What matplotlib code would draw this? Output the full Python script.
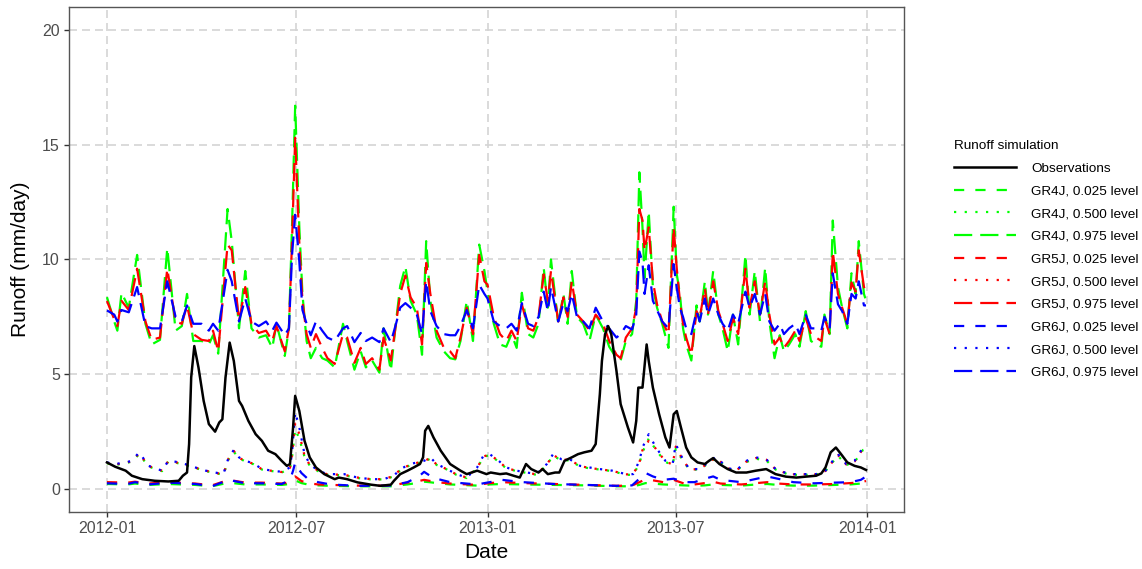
import matplotlib
matplotlib.use("Agg")
import matplotlib.pyplot as plt
import matplotlib.dates as mdates
import numpy as np

plt.rcParams["font.family"] = ["Liberation Sans", "DejaVu Sans"]

# ---- data (days since 2012-01-01, runoff in mm/day) ----
obs_day = [0, 8, 18, 24, 34, 46, 59, 69, 73, 77, 79, 81, 84, 88, 93, 98, 104, 108, 111, 114,
           118, 122, 127, 130, 136, 143, 149, 155, 162, 168, 173, 176, 179, 181, 185, 190, 195,
           201, 209, 219, 223, 231, 241, 254, 263, 273, 276, 282, 289, 295, 301, 304, 306, 309,
           314, 321, 330, 340, 346, 356, 365, 369, 378, 384, 391, 397, 403, 408, 415, 419, 424,
           431, 435, 440, 447, 453, 459, 466, 470, 474, 476, 479, 482, 485, 490, 494, 501, 506,
           509, 511, 515, 519, 521, 525, 531, 537, 541, 545, 548, 552, 557, 562, 568, 575, 579,
           583, 589, 597, 605, 615, 624, 634, 643, 653, 663, 672, 682, 687, 691, 696, 701, 706,
           712, 719, 725, 730]
obs = [1.16, 0.97, 0.8, 0.58, 0.43, 0.36, 0.33, 0.36, 0.58, 0.72, 1.96, 4.86, 6.23, 5.3, 3.84,
       2.83, 2.5, 2.9, 3.04, 4.86, 6.38, 5.58, 3.84, 3.62, 2.97, 2.39, 2.1, 1.67, 1.52, 1.23,
       1.01, 1.09, 2.68, 4.06, 3.4, 2.1, 1.38, 0.94, 0.65, 0.43, 0.5, 0.43, 0.29, 0.19, 0.14,
       0.19, 0.36, 0.65, 0.8, 0.94, 1.09, 1.38, 2.54, 2.75, 2.25, 1.67, 1.09, 0.8, 0.65, 0.8,
       0.65, 0.72, 0.65, 0.68, 0.58, 0.5, 1.09, 0.87, 0.72, 0.87, 0.65, 0.72, 0.72, 1.23, 1.38,
       1.52, 1.6, 1.67, 1.96, 4.13, 5.58, 6.74, 7.1, 6.74, 5.14, 3.7, 2.68, 2.03, 2.97, 4.42,
       4.42, 6.3, 5.58, 4.42, 3.26, 2.25, 1.81, 3.26, 3.4, 2.68, 1.81, 1.38, 1.16, 1.09, 1.23,
       1.35, 1.09, 0.87, 0.72, 0.72, 0.8, 0.87, 0.65, 0.54, 0.5, 0.54, 0.58, 0.68, 0.94, 1.6,
       1.81, 1.52, 1.16, 1.01, 0.94, 0.83]

up_day = [0, 7, 10, 14, 21, 29, 37, 43, 51, 58, 66, 72, 77, 83, 91, 98, 102, 107, 116, 120,
          127, 133, 139, 146, 153, 159, 163, 171, 175, 178, 181, 185, 188, 192, 196, 201, 207,
          212, 219, 227, 231, 238, 244, 249, 255, 262, 266, 273, 278, 282, 287, 292, 298, 303,
          307, 311, 317, 324, 330, 335, 340, 346, 352, 358, 363, 366, 372, 378, 384, 389, 394,
          399, 405, 410, 415, 420, 424, 427, 434, 439, 443, 447, 452, 458, 464, 470, 477, 483,
          490, 494, 499, 505, 509, 512, 515, 517, 521, 525, 529, 534, 540, 545, 548, 551, 554,
          557, 562, 567, 570, 575, 578, 583, 588, 592, 597, 602, 607, 614, 618, 623, 628, 633,
          637, 642, 647, 651, 656, 662, 666, 672, 677, 682, 687, 690, 695, 698, 703, 707, 712,
          716, 720, 723, 728, 730]
gr4j_975 = [8.36, 7.3, 6.9, 8.55, 7.9, 10.2, 7.2, 6.3, 6.5, 10.5, 6.9, 7.1, 8.5, 6.45, 6.45,
            6.3, 6.7, 5.9, 12.2, 10.8, 7.0, 9.5, 7.0, 6.6, 6.7, 6.15, 7.2, 5.8, 7.0, 11.5, 16.7,
            11.4, 8.5, 6.45, 5.7, 6.15, 5.7, 5.6, 5.3, 7.2, 6.45, 5.2, 6.0, 5.3, 5.6, 5.07, 7.0,
            5.15, 7.3, 8.85, 9.7, 8.2, 7.6, 5.85, 10.8, 8.2, 6.6, 6.0, 5.7, 5.65, 6.45, 8.2,
            6.45, 10.65, 9.5, 8.6, 7.2, 6.3, 6.2, 6.75, 6.15, 8.55, 6.75, 6.6, 7.2, 9.65, 7.9,
            10.0, 7.2, 8.5, 7.2, 9.5, 7.5, 7.2, 6.45, 7.6, 7.0, 6.2, 5.7, 5.6, 6.45, 6.75, 8.2,
            13.8, 11.4, 9.2, 12.1, 8.8, 7.9, 7.2, 6.15, 12.3, 9.35, 8.5, 7.0, 6.3, 5.6, 8.0, 7.3,
            9.05, 7.6, 9.5, 7.6, 7.0, 6.0, 7.6, 6.3, 10.2, 7.6, 9.5, 7.3, 9.65, 7.3, 5.7, 6.7,
            6.0, 6.3, 6.75, 6.2, 7.75, 6.45, 6.3, 6.2, 7.6, 6.75, 11.7, 8.8, 7.9, 7.0, 9.4, 8.5,
            10.8, 8.5, 8.2]
gr5j_975 = [8.19, 7.4, 7.1, 8.2, 7.8, 9.6, 7.3, 6.5, 6.6, 9.6, 7.3, 7.2, 8.0, 6.75, 6.5,
            6.45, 6.9, 6.0, 10.65, 10.4, 7.3, 8.8, 7.2, 6.8, 6.9, 6.45, 7.1, 6.0, 7.0, 10.8, 15.3,
            10.7, 8.2, 6.75, 6.15, 6.75, 6.15, 5.7, 5.45, 6.75, 6.6, 5.5, 6.15, 5.45, 5.7, 5.2,
            6.6, 5.6, 7.2, 8.5, 9.3, 8.35, 7.9, 6.3, 9.85, 8.5, 6.9, 6.15, 6.0, 5.7, 6.6, 7.9,
            6.75, 10.2, 9.05, 8.9, 7.5, 6.75, 6.45, 6.9, 6.45, 8.05, 7.0, 6.9, 7.5, 9.35, 8.2,
            9.5, 7.3, 8.35, 7.5, 9.05, 7.6, 7.3, 6.9, 7.6, 7.2, 6.45, 5.85, 5.7, 6.6, 7.0, 7.9,
            12.2, 11.7, 10.4, 11.4, 9.05, 8.05, 7.3, 6.75, 11.4, 9.6, 8.2, 7.2, 6.6, 5.85, 7.75,
            7.45, 8.75, 7.6, 9.05, 7.75, 7.2, 6.45, 7.45, 6.75, 9.6, 7.9, 9.05, 7.6, 9.05, 7.6,
            6.3, 6.6, 6.15, 6.45, 6.9, 6.45, 7.45, 6.75, 6.6, 6.45, 7.45, 6.75, 10.35, 8.5, 7.9,
            7.2, 9.0, 8.6, 10.4, 8.8, 8.6]
gr6j_975 = [7.78, 7.6, 7.3, 7.8, 7.7, 8.8, 7.1, 7.0, 7.0, 9.05, 7.5, 7.3, 8.0, 7.2, 7.2,
            6.9, 7.2, 6.9, 9.55, 9.05, 7.3, 8.3, 7.3, 7.1, 7.3, 6.9, 7.25, 6.7, 7.0, 10.2, 11.95,
            9.9, 7.8, 7.2, 6.7, 7.3, 6.9, 6.6, 6.45, 7.0, 7.1, 6.4, 6.8, 6.45, 6.6, 6.4, 7.0,
            6.4, 7.2, 7.9, 8.1, 7.9, 7.6, 6.75, 9.05, 7.75, 7.1, 6.75, 6.7, 6.7, 7.1, 7.8, 7.0,
            8.9, 8.5, 8.3, 7.3, 7.1, 7.0, 7.2, 6.9, 8.1, 7.2, 7.1, 7.5, 8.6, 7.75, 8.8, 7.3, 8.1,
            7.75, 8.5, 7.5, 7.3, 7.0, 7.9, 7.3, 7.0, 6.6, 6.75, 7.1, 6.95, 7.6, 10.35, 9.9, 8.5,
            9.75, 8.2, 7.8, 7.3, 7.0, 9.8, 8.75, 7.9, 7.5, 7.0, 6.75, 7.75, 7.3, 8.3, 7.6, 8.3,
            7.6, 7.2, 6.9, 7.6, 7.2, 8.6, 7.9, 8.5, 7.6, 8.5, 7.3, 6.9, 7.2, 6.75, 7.0, 7.2, 6.75,
            7.6, 7.0, 7.0, 6.9, 7.5, 7.0, 9.4, 8.05, 7.75, 7.2, 8.5, 8.3, 9.05, 8.0, 8.0]

mid_day = [0, 8, 18, 24, 31, 40, 53, 59, 66, 75, 85, 95, 104, 112, 117, 122, 127, 133, 141,
           149, 159, 168, 176, 178, 181, 185, 190, 195, 203, 212, 228, 241, 254, 266, 276, 282,
           292, 298, 305, 311, 317, 327, 336, 346, 356, 362, 368, 375, 384, 394, 404, 413, 423,
           429, 437, 445, 455, 464, 474, 486, 499, 506, 512, 515, 521, 528, 537, 544, 547, 553,
           560, 570, 580, 586, 596, 605, 615, 624, 634, 643, 656, 669, 682, 691, 698, 703, 711,
           719, 727, 730]
gr4j_500 = [1.12, 1.05, 1.12, 1.2, 1.52, 0.98, 0.78, 1.2, 1.15, 1.05, 0.92, 0.78, 0.7, 0.62,
            1.3, 1.62, 1.35, 1.2, 1.08, 0.85, 0.78, 0.72, 0.9, 1.4, 2.6, 2.2, 1.4, 1.02, 0.78,
            0.62, 0.6, 0.48, 0.42, 0.42, 0.55, 0.82, 1.05, 1.12, 1.2, 1.32, 1.05, 0.85, 0.62,
            0.48, 0.9, 1.4, 1.48, 1.25, 0.9, 0.78, 0.7, 0.62, 1.05, 1.45, 1.25, 1.25, 0.98, 0.9,
            0.85, 0.78, 0.62, 0.62, 1.1, 1.6, 2.2, 1.7, 1.18, 1.05, 1.75, 1.3, 0.85, 0.85, 1.18,
            1.35, 0.9, 0.78, 1.18, 1.32, 1.25, 0.85, 0.62, 0.62, 0.62, 0.78, 1.18, 1.45, 1.05,
            1.18, 1.7, 1.75]
gr5j_500 = [1.14, 1.07, 1.14, 1.22, 1.56, 1.0, 0.8, 1.22, 1.17, 1.07, 0.93, 0.8, 0.71, 0.64,
            1.34, 1.66, 1.36, 1.22, 1.1, 0.86, 0.79, 0.74, 0.92, 1.5, 2.85, 2.4, 1.45, 1.05,
            0.8, 0.64, 0.62, 0.5, 0.43, 0.43, 0.57, 0.85, 1.07, 1.14, 1.22, 1.35, 1.07, 0.86,
            0.64, 0.5, 0.92, 1.42, 1.5, 1.28, 0.92, 0.79, 0.71, 0.64, 1.07, 1.48, 1.28, 1.28,
            1.0, 0.92, 0.86, 0.79, 0.64, 0.64, 1.15, 1.7, 2.1, 1.75, 1.2, 1.07, 1.85, 1.34, 0.86,
            0.86, 1.2, 1.38, 0.92, 0.79, 1.2, 1.35, 1.28, 0.86, 0.64, 0.64, 0.64, 0.79, 1.2,
            1.48, 1.07, 1.2, 1.75, 1.8]
gr6j_500 = [1.16, 1.09, 1.16, 1.23, 1.6, 1.01, 0.8, 1.23, 1.19, 1.09, 0.94, 0.8, 0.72, 0.65,
            1.38, 1.7, 1.38, 1.23, 1.12, 0.87, 0.8, 0.75, 0.94, 1.6, 3.35, 2.68, 1.52, 1.09, 0.8,
            0.65, 0.65, 0.5, 0.43, 0.43, 0.58, 0.87, 1.09, 1.16, 1.23, 1.38, 1.09, 0.87, 0.65,
            0.5, 0.94, 1.45, 1.52, 1.3, 0.94, 0.8, 0.72, 0.65, 1.09, 1.52, 1.3, 1.3, 1.01, 0.94,
            0.87, 0.8, 0.65, 0.65, 1.23, 1.81, 2.39, 1.81, 1.23, 1.09, 1.96, 1.38, 0.87, 0.87,
            1.23, 1.4, 0.94, 0.8, 1.23, 1.38, 1.3, 0.87, 0.65, 0.65, 0.65, 0.8, 1.23, 1.52, 1.09,
            1.23, 1.81, 1.85]

low_day = [0, 20, 27, 40, 59, 85, 101, 117, 133, 149, 168, 176, 179, 181, 184, 187, 193, 203,
           215, 241, 273, 289, 300, 305, 310, 317, 330, 356, 368, 380, 400, 430, 460, 490, 505,
           512, 518, 525, 535, 545, 555, 565, 575, 583, 590, 610, 625, 635, 645, 660, 680, 700,
           715, 725, 730]
gr4j_025 = [0.22, 0.2, 0.24, 0.18, 0.22, 0.18, 0.12, 0.28, 0.2, 0.2, 0.18, 0.22, 0.3, 0.38,
            0.32, 0.26, 0.2, 0.16, 0.14, 0.12, 0.12, 0.2, 0.28, 0.32, 0.3, 0.26, 0.2, 0.15, 0.2,
            0.22, 0.2, 0.18, 0.16, 0.12, 0.12, 0.18, 0.26, 0.24, 0.2, 0.18, 0.16, 0.14, 0.16,
            0.2, 0.18, 0.15, 0.2, 0.22, 0.18, 0.15, 0.15, 0.18, 0.2, 0.24, 0.3]
gr5j_025 = [0.3, 0.28, 0.32, 0.24, 0.3, 0.24, 0.16, 0.4, 0.28, 0.28, 0.24, 0.3, 0.45, 0.55,
            0.45, 0.35, 0.26, 0.2, 0.18, 0.15, 0.15, 0.28, 0.35, 0.4, 0.36, 0.3, 0.24, 0.18,
            0.26, 0.3, 0.26, 0.22, 0.18, 0.14, 0.15, 0.3, 0.42, 0.38, 0.3, 0.4, 0.24, 0.2, 0.26,
            0.32, 0.24, 0.2, 0.26, 0.3, 0.24, 0.2, 0.2, 0.22, 0.26, 0.3, 0.35]
gr6j_025 = [0.25, 0.22, 0.3, 0.2, 0.28, 0.22, 0.12, 0.4, 0.25, 0.25, 0.22, 0.4, 0.8, 1.15,
            0.9, 0.7, 0.45, 0.3, 0.2, 0.14, 0.15, 0.3, 0.55, 0.75, 0.6, 0.45, 0.3, 0.2, 0.3,
            0.4, 0.3, 0.22, 0.18, 0.14, 0.16, 0.45, 0.7, 0.55, 0.4, 0.45, 0.3, 0.3, 0.45, 0.55,
            0.4, 0.3, 0.45, 0.55, 0.45, 0.3, 0.25, 0.28, 0.3, 0.4, 0.55]

labels = ["Observations",
          "GR4J, 0.025 level", "GR4J, 0.500 level", "GR4J, 0.975 level",
          "GR5J, 0.025 level", "GR5J, 0.500 level", "GR5J, 0.975 level",
          "GR6J, 0.025 level", "GR6J, 0.500 level", "GR6J, 0.975 level"]

base = np.datetime64("2012-01-01")


def to_dates(days):
    return base + np.array(days, dtype="timedelta64[D]")


LW = 1.6
DASHED = (0, (4.6, 5.0))
DOTTED = (0, (1.0, 3.8))
LONGDASH = (0, (8.2, 3.6))
colors = {"GR4J": "#00ff00", "GR5J": "#ff0000", "GR6J": "#0000ff"}

series = [
    (low_day, gr4j_025, "GR4J", DASHED, labels[1]),
    (mid_day, gr4j_500, "GR4J", DOTTED, labels[2]),
    (up_day, gr4j_975, "GR4J", LONGDASH, labels[3]),
    (low_day, gr5j_025, "GR5J", DASHED, labels[4]),
    (mid_day, gr5j_500, "GR5J", DOTTED, labels[5]),
    (up_day, gr5j_975, "GR5J", LONGDASH, labels[6]),
    (low_day, gr6j_025, "GR6J", DASHED, labels[7]),
    (mid_day, gr6j_500, "GR6J", DOTTED, labels[8]),
    (up_day, gr6j_975, "GR6J", LONGDASH, labels[9]),
]

fig = plt.figure(figsize=(11.42, 5.69), dpi=100)
ax = fig.add_axes([69 / 1142, 1 - 512 / 569, (904 - 69) / 1142, (512 - 7) / 569])

handles = {}
for days, vals, model, ls, lab in series:
    (h,) = ax.plot(to_dates(days), vals, color=colors[model], linestyle=ls, lw=LW, label=lab)
    handles[lab] = h
(h,) = ax.plot(to_dates(obs_day), obs, color="black", lw=LW + 0.2, label=labels[0], zorder=5)
handles[labels[0]] = h

ax.set_ylim(-1, 21)
ax.set_yticks([0, 5, 10, 15, 20])
ax.set_xlim(base - np.timedelta64(876, "h"), base + np.timedelta64(730 * 24 + 876, "h"))
xt = np.array(["2012-01-01", "2012-07-01", "2013-01-01", "2013-07-01", "2014-01-01"],
              dtype="datetime64[D]")
ax.set_xticks(xt)
ax.xaxis.set_major_formatter(mdates.DateFormatter("%Y-%m"))

ax.grid(True, color="#d4d4d4", lw=1.2, linestyle=(0, (4.8, 3.0)))
ax.set_axisbelow(True)
for sp in ax.spines.values():
    sp.set_color("#555555")
    sp.set_linewidth(1.0)
ax.tick_params(axis="both", length=3.5, width=1.0, color="#333333",
               labelcolor="#4d4d4d", labelsize=11.5, pad=3)

ax.set_xlabel("Date", fontsize=15, labelpad=5)
ax.set_ylabel("Runoff (mm/day)", fontsize=15, labelpad=9)

leg = fig.legend([handles[l] for l in labels], labels, loc="upper left",
                 bbox_to_anchor=(942 / 1142, 1 - 128 / 569), frameon=False,
                 title="Runoff simulation", fontsize=9.7, title_fontsize=9.7,
                 handlelength=4.6, handletextpad=1.1, labelspacing=0.76)
leg._legend_box.align = "left"

fig.savefig("out.png", dpi=100)
